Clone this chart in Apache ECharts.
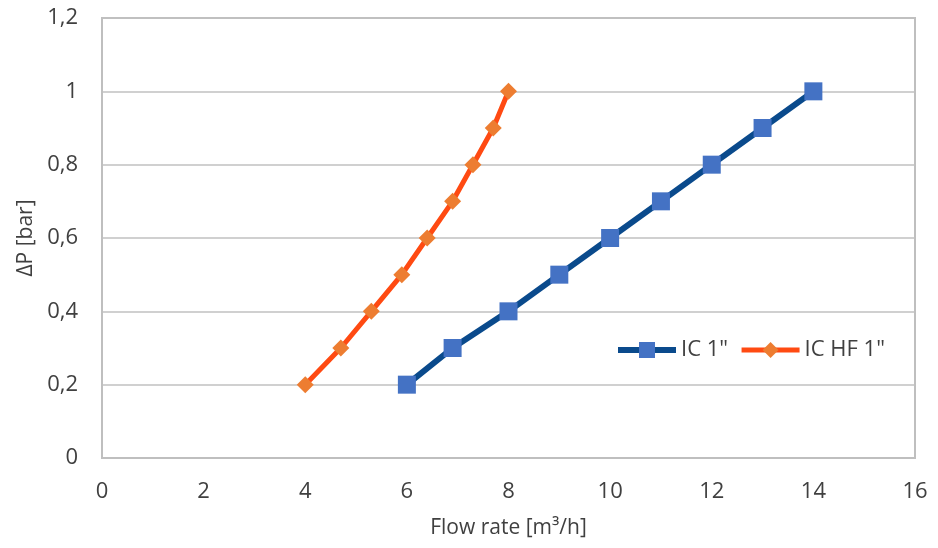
<!DOCTYPE html>
<html>
<head>
<meta charset="utf-8">
<script src="https://cdn.jsdelivr.net/npm/echarts@6/dist/echarts.min.js"></script>
<style>
html,body{margin:0;padding:0;background:#fff;}
#chart{width:938px;height:548px;}
</style>
</head>
<body>
<div id="chart"></div>
<script>
// Data
var seriesNames = ['IC 1"', 'IC HF 1"'];
var icFlow   = [6, 6.9, 8, 9, 10, 11, 12, 13, 14];
var icDP     = [0.2, 0.3, 0.4, 0.5, 0.6, 0.7, 0.8, 0.9, 1.0];
var icHfFlow = [4, 4.7, 5.3, 5.9, 6.4, 6.9, 7.3, 7.7, 8];
var icHfDP   = [0.2, 0.3, 0.4, 0.5, 0.6, 0.7, 0.8, 0.9, 1.0];
var xTicks = [0, 2, 4, 6, 8, 10, 12, 14, 16];
var yTicks = ['0', '0,2', '0,4', '0,6', '0,8', '1', '1,2'];
var xTitle = 'Flow rate [m³/h]';
var yTitle = 'ΔP [bar]';

function pairs(xs, ys){ return xs.map(function(x,i){ return [x, ys[i]]; }); }

var FONT = '"Open Sans", sans-serif';
var TXT = '#404040';
var BLUE_LINE = '#0a4a8c', BLUE_MARK = '#4472c4';
var ORANGE_LINE = '#ff4a12', ORANGE_MARK = '#ed7d31';

var chart = echarts.init(document.getElementById('chart'), null, {renderer:'canvas'});
chart.setOption({
  backgroundColor: '#ffffff',
  animation: false,
  grid: {
    left: 102, right: 23, top: 18, bottom: 90,
    show: true, borderColor: '#bfbfbf', borderWidth: 2, backgroundColor: 'transparent'
  },
  legend: {
    left: 615, top: 339, padding: 0,
    itemWidth: 58, itemHeight: 20, itemGap: 11,
    textStyle: { fontFamily: FONT, fontSize: 22, color: TXT },
    data: [
      { name: seriesNames[0], lineStyle: { width: 6, color: BLUE_LINE } },
      { name: seriesNames[1], lineStyle: { width: 5, color: ORANGE_LINE } }
    ]
  },
  xAxis: {
    type: 'value', min: xTicks[0], max: xTicks[xTicks.length-1], interval: 2,
    name: xTitle, nameLocation: 'middle', nameGap: 60,
    nameTextStyle: { fontFamily: FONT, fontSize: 21, color: TXT },
    axisLine: { show: true, lineStyle: { color: '#bfbfbf', width: 2 } },
    axisTick: { show: false },
    axisLabel: { margin: 23, fontFamily: FONT, fontSize: 22, color: TXT },
    splitLine: { show: false }
  },
  yAxis: {
    type: 'value', min: 0, max: 1.2, interval: 0.2,
    name: yTitle, nameLocation: 'middle', nameGap: 61, nameRotate: 90,
    nameTextStyle: { fontFamily: FONT, fontSize: 21, color: TXT },
    axisLine: { show: true, lineStyle: { color: '#bfbfbf', width: 2 } },
    axisTick: { show: false },
    axisLabel: {
      margin: 24, fontFamily: FONT, fontSize: 22, color: TXT,
      formatter: function(v){ var i = Math.round(v/0.2); return yTicks[i] !== undefined ? yTicks[i] : String(v).replace('.', ','); }
    },
    splitLine: { show: true, lineStyle: { color: '#c0c0c0', width: 1.5 } }
  },
  series: [
    {
      name: seriesNames[0], type: 'line', data: pairs(icFlow, icDP),
      symbol: 'rect', symbolSize: 18,
      lineStyle: { color: BLUE_LINE, width: 6 },
      itemStyle: { color: BLUE_MARK },
      z: 2
    },
    {
      name: seriesNames[1], type: 'line', data: pairs(icHfFlow, icHfDP),
      symbol: 'diamond', symbolSize: 17,
      lineStyle: { color: ORANGE_LINE, width: 5 },
      itemStyle: { color: ORANGE_MARK },
      z: 3
    }
  ]
});
</script>
</body>
</html>
